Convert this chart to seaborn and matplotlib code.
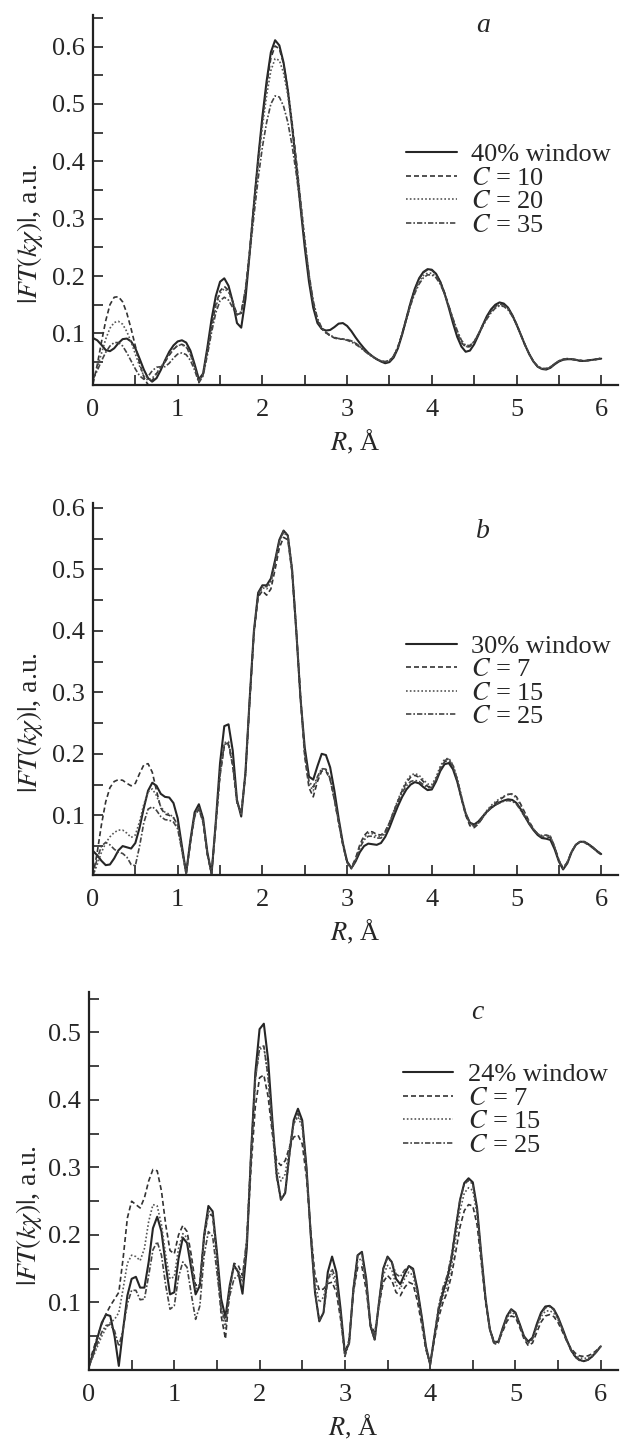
import numpy as np
import pandas as pd
import matplotlib
matplotlib.use("Agg")
import matplotlib.pyplot as plt
import seaborn as sns
from matplotlib.ticker import MultipleLocator

# R grid, 0 .. 6 A in 0.05 steps
r_grid = [round(0.05 * i, 2) for i in range(121)]

# panel a
a_win = [0.092, 0.088, 0.080, 0.071, 0.069, 0.074, 0.083, 0.090, 0.091, 0.086,
         0.074, 0.056, 0.037, 0.022, 0.016, 0.022, 0.036, 0.053, 0.068, 0.079,
         0.086, 0.088, 0.084, 0.070, 0.046, 0.020, 0.030, 0.075, 0.125, 0.165,
         0.190, 0.196, 0.183, 0.155, 0.118, 0.110, 0.160, 0.240, 0.325, 0.405,
         0.478, 0.540, 0.590, 0.611, 0.602, 0.572, 0.524, 0.462, 0.392, 0.320,
         0.250, 0.190, 0.145, 0.118, 0.108, 0.105, 0.106, 0.111, 0.117, 0.118,
         0.113, 0.104, 0.093, 0.083, 0.074, 0.066, 0.060, 0.055, 0.051, 0.048,
         0.050, 0.058, 0.074, 0.098, 0.126, 0.154, 0.178, 0.196, 0.207, 0.212,
         0.211, 0.204, 0.190, 0.170, 0.145, 0.118, 0.094, 0.077, 0.068, 0.070,
         0.081, 0.097, 0.114, 0.130, 0.142, 0.150, 0.154, 0.152, 0.145, 0.132,
         0.116, 0.098, 0.080, 0.064, 0.051, 0.042, 0.038, 0.037, 0.040, 0.046,
         0.051, 0.054, 0.055, 0.055, 0.054, 0.052, 0.052, 0.053, 0.054, 0.055,
         0.056]
a_c10 = [0.012, 0.045, 0.085, 0.122, 0.150, 0.163, 0.164, 0.155, 0.135, 0.108,
         0.078, 0.048, 0.024, 0.010, 0.018, 0.030, 0.040, 0.050, 0.062, 0.072,
         0.079, 0.081, 0.077, 0.064, 0.042, 0.016, 0.028, 0.068, 0.112, 0.150,
         0.174, 0.182, 0.175, 0.155, 0.133, 0.135, 0.175, 0.245, 0.325, 0.402,
         0.472, 0.532, 0.580, 0.601, 0.596, 0.570, 0.526, 0.468, 0.402, 0.332,
         0.262, 0.200, 0.152, 0.122, 0.108, 0.101, 0.096, 0.092, 0.090, 0.090,
         0.089, 0.087, 0.083, 0.077, 0.071, 0.065, 0.060, 0.055, 0.052, 0.050,
         0.052, 0.060, 0.076, 0.100, 0.127, 0.154, 0.177, 0.195, 0.206, 0.211,
         0.210, 0.203, 0.190, 0.171, 0.148, 0.124, 0.101, 0.084, 0.076, 0.077,
         0.085, 0.099, 0.114, 0.128, 0.139, 0.147, 0.151, 0.150, 0.144, 0.132,
         0.116, 0.098, 0.080, 0.064, 0.051, 0.042, 0.038, 0.038, 0.041, 0.047,
         0.052, 0.055, 0.056, 0.055, 0.054, 0.053, 0.052, 0.053, 0.054, 0.055,
         0.056]
a_c20 = [0.020, 0.040, 0.065, 0.090, 0.109, 0.119, 0.121, 0.116, 0.103, 0.085,
         0.064, 0.043, 0.026, 0.018, 0.022, 0.031, 0.041, 0.052, 0.064, 0.073,
         0.079, 0.080, 0.076, 0.063, 0.042, 0.018, 0.030, 0.068, 0.110, 0.146,
         0.170, 0.178, 0.172, 0.154, 0.133, 0.136, 0.176, 0.244, 0.320, 0.395,
         0.460, 0.515, 0.558, 0.579, 0.576, 0.554, 0.515, 0.462, 0.400, 0.333,
         0.265, 0.203, 0.155, 0.124, 0.109, 0.101, 0.096, 0.092, 0.091, 0.090,
         0.089, 0.087, 0.083, 0.077, 0.071, 0.065, 0.060, 0.055, 0.052, 0.050,
         0.052, 0.060, 0.076, 0.099, 0.125, 0.151, 0.173, 0.190, 0.201, 0.205,
         0.205, 0.199, 0.187, 0.169, 0.147, 0.124, 0.102, 0.085, 0.077, 0.078,
         0.086, 0.099, 0.113, 0.127, 0.138, 0.146, 0.150, 0.149, 0.143, 0.131,
         0.116, 0.098, 0.080, 0.064, 0.051, 0.042, 0.038, 0.038, 0.041, 0.047,
         0.052, 0.055, 0.056, 0.055, 0.054, 0.053, 0.052, 0.053, 0.054, 0.055,
         0.057]
a_c35 = [0.020, 0.035, 0.052, 0.067, 0.078, 0.084, 0.084, 0.078, 0.066, 0.052,
         0.038, 0.026, 0.020, 0.025, 0.035, 0.041, 0.042, 0.042, 0.048, 0.057,
         0.064, 0.066, 0.063, 0.053, 0.036, 0.014, 0.026, 0.062, 0.102, 0.136,
         0.157, 0.163, 0.158, 0.145, 0.132, 0.138, 0.176, 0.238, 0.305, 0.370,
         0.425, 0.468, 0.500, 0.514, 0.512, 0.496, 0.468, 0.428, 0.378, 0.320,
         0.260, 0.203, 0.157, 0.126, 0.110, 0.102, 0.097, 0.093, 0.091, 0.090,
         0.088, 0.085, 0.081, 0.076, 0.070, 0.064, 0.059, 0.055, 0.052, 0.051,
         0.053, 0.061, 0.077, 0.099, 0.124, 0.149, 0.170, 0.186, 0.197, 0.202,
         0.202, 0.197, 0.186, 0.169, 0.148, 0.126, 0.105, 0.088, 0.079, 0.079,
         0.086, 0.098, 0.112, 0.125, 0.136, 0.144, 0.148, 0.147, 0.141, 0.130,
         0.115, 0.098, 0.080, 0.064, 0.051, 0.043, 0.039, 0.039, 0.042, 0.047,
         0.052, 0.055, 0.056, 0.055, 0.054, 0.053, 0.052, 0.053, 0.054, 0.055,
         0.057]

# panel b
b_win = [0.042, 0.035, 0.026, 0.019, 0.020, 0.030, 0.043, 0.050, 0.048, 0.046,
         0.055, 0.080, 0.112, 0.140, 0.153, 0.148, 0.135, 0.130, 0.129, 0.120,
         0.095, 0.050, 0.006, 0.060, 0.105, 0.118, 0.095, 0.040, 0.005, 0.090,
         0.185, 0.245, 0.248, 0.205, 0.125, 0.098, 0.170, 0.290, 0.400, 0.462,
         0.474, 0.474, 0.485, 0.515, 0.548, 0.563, 0.555, 0.500, 0.400, 0.290,
         0.210, 0.163, 0.158, 0.180, 0.200, 0.198, 0.178, 0.140, 0.095, 0.055,
         0.025, 0.014, 0.025, 0.040, 0.050, 0.054, 0.053, 0.052, 0.055, 0.065,
         0.080, 0.098, 0.115, 0.130, 0.142, 0.150, 0.154, 0.152, 0.146, 0.141,
         0.142, 0.155, 0.172, 0.183, 0.185, 0.175, 0.155, 0.128, 0.103, 0.088,
         0.085, 0.090, 0.098, 0.106, 0.112, 0.117, 0.121, 0.124, 0.126, 0.125,
         0.120, 0.110, 0.098, 0.086, 0.076, 0.068, 0.063, 0.062, 0.060, 0.045,
         0.025, 0.012, 0.022, 0.040, 0.052, 0.057, 0.057, 0.053, 0.048, 0.042,
         0.037]
b_c7 = [0.002, 0.040, 0.085, 0.122, 0.145, 0.155, 0.158, 0.157, 0.152, 0.148,
        0.152, 0.168, 0.182, 0.184, 0.170, 0.140, 0.112, 0.102, 0.100, 0.096,
        0.085, 0.045, 0.006, 0.055, 0.098, 0.110, 0.088, 0.036, 0.006, 0.085,
        0.165, 0.212, 0.215, 0.180, 0.120, 0.105, 0.165, 0.285, 0.395, 0.455,
        0.465, 0.458, 0.468, 0.500, 0.535, 0.552, 0.548, 0.495, 0.398, 0.290,
        0.195, 0.145, 0.130, 0.155, 0.172, 0.172, 0.158, 0.125, 0.088, 0.052,
        0.024, 0.015, 0.030, 0.052, 0.067, 0.074, 0.073, 0.069, 0.068, 0.074,
        0.088, 0.106, 0.123, 0.140, 0.153, 0.162, 0.165, 0.162, 0.155, 0.147,
        0.146, 0.158, 0.175, 0.187, 0.189, 0.178, 0.156, 0.127, 0.100, 0.083,
        0.080, 0.086, 0.096, 0.106, 0.114, 0.120, 0.125, 0.130, 0.134, 0.135,
        0.130, 0.118, 0.104, 0.090, 0.078, 0.069, 0.064, 0.065, 0.064, 0.048,
        0.027, 0.014, 0.024, 0.041, 0.052, 0.057, 0.056, 0.052, 0.047, 0.041,
        0.036]
b_c15 = [0.002, 0.020, 0.040, 0.055, 0.065, 0.072, 0.076, 0.076, 0.071, 0.064,
         0.068, 0.090, 0.118, 0.138, 0.143, 0.132, 0.114, 0.105, 0.102, 0.097,
         0.083, 0.045, 0.005, 0.057, 0.101, 0.113, 0.091, 0.038, 0.005, 0.087,
         0.170, 0.218, 0.220, 0.183, 0.122, 0.102, 0.167, 0.287, 0.397, 0.458,
         0.470, 0.468, 0.478, 0.510, 0.545, 0.560, 0.553, 0.498, 0.400, 0.290,
         0.198, 0.150, 0.140, 0.160, 0.175, 0.174, 0.160, 0.127, 0.090, 0.053,
         0.024, 0.014, 0.028, 0.050, 0.064, 0.071, 0.070, 0.066, 0.066, 0.073,
         0.088, 0.107, 0.125, 0.142, 0.156, 0.165, 0.168, 0.165, 0.158, 0.151,
         0.150, 0.162, 0.180, 0.191, 0.193, 0.182, 0.160, 0.131, 0.104, 0.087,
         0.083, 0.088, 0.098, 0.108, 0.116, 0.122, 0.127, 0.131, 0.134, 0.134,
         0.128, 0.116, 0.102, 0.089, 0.078, 0.070, 0.066, 0.067, 0.066, 0.049,
         0.027, 0.014, 0.024, 0.041, 0.052, 0.057, 0.056, 0.052, 0.047, 0.041,
         0.036]
b_c25 = [0.002, 0.030, 0.050, 0.056, 0.052, 0.045, 0.040, 0.038, 0.032, 0.020,
         0.018, 0.050, 0.088, 0.110, 0.114, 0.108, 0.098, 0.093, 0.092, 0.089,
         0.078, 0.042, 0.005, 0.056, 0.100, 0.112, 0.090, 0.037, 0.005, 0.086,
         0.168, 0.215, 0.218, 0.182, 0.122, 0.103, 0.168, 0.288, 0.398, 0.460,
         0.472, 0.472, 0.482, 0.512, 0.546, 0.562, 0.556, 0.502, 0.404, 0.294,
         0.202, 0.155, 0.146, 0.163, 0.176, 0.175, 0.160, 0.126, 0.089, 0.052,
         0.023, 0.013, 0.026, 0.047, 0.060, 0.066, 0.066, 0.063, 0.063, 0.071,
         0.086, 0.104, 0.121, 0.137, 0.148, 0.155, 0.157, 0.155, 0.150, 0.145,
         0.145, 0.158, 0.176, 0.189, 0.192, 0.181, 0.159, 0.130, 0.103, 0.086,
         0.082, 0.087, 0.096, 0.105, 0.112, 0.117, 0.120, 0.123, 0.124, 0.123,
         0.118, 0.108, 0.097, 0.086, 0.077, 0.070, 0.067, 0.068, 0.066, 0.049,
         0.027, 0.013, 0.023, 0.041, 0.052, 0.057, 0.057, 0.053, 0.048, 0.042,
         0.037]

# panel c
c_win = [0.005, 0.025, 0.048, 0.070, 0.082, 0.080, 0.050, 0.006, 0.060, 0.110,
         0.135, 0.138, 0.122, 0.122, 0.160, 0.210, 0.227, 0.205, 0.155, 0.112,
         0.115, 0.165, 0.196, 0.188, 0.150, 0.112, 0.125, 0.200, 0.243, 0.235,
         0.175, 0.105, 0.078, 0.125, 0.155, 0.145, 0.113, 0.180, 0.320, 0.440,
         0.505, 0.513, 0.460, 0.370, 0.290, 0.252, 0.262, 0.320, 0.370, 0.387,
         0.370, 0.300, 0.200, 0.115, 0.072, 0.085, 0.145, 0.168, 0.145, 0.090,
         0.025, 0.040, 0.120, 0.170, 0.175, 0.135, 0.065, 0.045, 0.100, 0.150,
         0.168, 0.160, 0.135, 0.127, 0.142, 0.154, 0.150, 0.120, 0.080, 0.035,
         0.008, 0.050, 0.090, 0.115, 0.135, 0.165, 0.210, 0.252, 0.277, 0.284,
         0.278, 0.240, 0.170, 0.105, 0.060, 0.040, 0.042, 0.062, 0.080, 0.090,
         0.085, 0.068, 0.050, 0.042, 0.048, 0.068, 0.085, 0.094, 0.095, 0.090,
         0.078, 0.062, 0.045, 0.030, 0.020, 0.015, 0.013, 0.015, 0.020, 0.027,
         0.035]
c_c7 = [0.010, 0.030, 0.050, 0.068, 0.083, 0.095, 0.105, 0.115, 0.165, 0.225,
        0.250, 0.245, 0.240, 0.255, 0.280, 0.297, 0.295, 0.265, 0.215, 0.177,
        0.172, 0.200, 0.214, 0.205, 0.170, 0.125, 0.130, 0.195, 0.232, 0.228,
        0.165, 0.080, 0.046, 0.120, 0.158, 0.155, 0.140, 0.190, 0.300, 0.390,
        0.433, 0.437, 0.405, 0.350, 0.310, 0.303, 0.310, 0.330, 0.345, 0.348,
        0.335, 0.285, 0.205, 0.140, 0.118, 0.120, 0.128, 0.130, 0.115, 0.075,
        0.025, 0.045, 0.115, 0.152, 0.153, 0.118, 0.068, 0.055, 0.095, 0.130,
        0.140, 0.133, 0.115, 0.110, 0.122, 0.130, 0.127, 0.102, 0.068, 0.030,
        0.010, 0.045, 0.078, 0.100, 0.115, 0.140, 0.175, 0.212, 0.236, 0.245,
        0.243, 0.215, 0.158, 0.100, 0.060, 0.042, 0.042, 0.057, 0.072, 0.080,
        0.078, 0.063, 0.046, 0.036, 0.040, 0.056, 0.071, 0.080, 0.082, 0.079,
        0.070, 0.057, 0.043, 0.032, 0.025, 0.021, 0.020, 0.021, 0.024, 0.029,
        0.035]
c_c15 = [0.008, 0.020, 0.035, 0.050, 0.062, 0.070, 0.075, 0.085, 0.120, 0.158,
         0.170, 0.168, 0.162, 0.180, 0.220, 0.245, 0.243, 0.215, 0.170, 0.135,
         0.138, 0.180, 0.202, 0.196, 0.160, 0.118, 0.128, 0.198, 0.236, 0.230,
         0.168, 0.090, 0.062, 0.122, 0.152, 0.148, 0.130, 0.190, 0.320, 0.430,
         0.475, 0.478, 0.435, 0.360, 0.300, 0.280, 0.290, 0.330, 0.365, 0.375,
         0.360, 0.295, 0.205, 0.130, 0.100, 0.108, 0.135, 0.142, 0.125, 0.080,
         0.022, 0.042, 0.118, 0.162, 0.165, 0.126, 0.066, 0.050, 0.098, 0.140,
         0.155, 0.148, 0.126, 0.120, 0.135, 0.145, 0.140, 0.112, 0.074, 0.032,
         0.010, 0.048, 0.085, 0.108, 0.125, 0.153, 0.195, 0.236, 0.262, 0.270,
         0.266, 0.230, 0.165, 0.103, 0.060, 0.040, 0.042, 0.060, 0.076, 0.086,
         0.082, 0.066, 0.048, 0.040, 0.045, 0.063, 0.079, 0.087, 0.088, 0.084,
         0.074, 0.060, 0.044, 0.031, 0.022, 0.018, 0.017, 0.018, 0.022, 0.028,
         0.035]
c_c25 = [0.005, 0.022, 0.040, 0.056, 0.066, 0.067, 0.058, 0.035, 0.060, 0.098,
         0.118, 0.118, 0.104, 0.105, 0.140, 0.178, 0.190, 0.170, 0.125, 0.090,
         0.095, 0.138, 0.160, 0.152, 0.112, 0.075, 0.095, 0.170, 0.205, 0.198,
         0.145, 0.090, 0.072, 0.110, 0.135, 0.140, 0.135, 0.195, 0.320, 0.430,
         0.478, 0.480, 0.435, 0.355, 0.285, 0.253, 0.263, 0.318, 0.365, 0.380,
         0.365, 0.298, 0.200, 0.115, 0.074, 0.085, 0.133, 0.150, 0.132, 0.083,
         0.020, 0.040, 0.120, 0.170, 0.173, 0.133, 0.064, 0.044, 0.100, 0.150,
         0.166, 0.160, 0.142, 0.138, 0.148, 0.153, 0.148, 0.118, 0.078, 0.033,
         0.007, 0.052, 0.095, 0.122, 0.140, 0.170, 0.212, 0.252, 0.275, 0.281,
         0.275, 0.237, 0.168, 0.104, 0.060, 0.038, 0.040, 0.061, 0.079, 0.089,
         0.084, 0.067, 0.049, 0.040, 0.046, 0.066, 0.083, 0.092, 0.094, 0.089,
         0.077, 0.061, 0.044, 0.029, 0.019, 0.014, 0.013, 0.015, 0.020, 0.027,
         0.036]

labels_a = ["40% window", "$C$ = 10", "$C$ = 20", "$C$ = 35"]
labels_b = ["30% window", "$C$ = 7", "$C$ = 15", "$C$ = 25"]
labels_c = ["24% window", "$C$ = 7", "$C$ = 15", "$C$ = 25"]

sns.set_style("ticks")
plt.rcParams['font.family'] = ['Liberation Serif', 'DejaVu Serif']
plt.rcParams['mathtext.fontset'] = 'stix'

styles = [dict(color="#262626", linestyle="-", lw=1.5),
          dict(color="#333333", linestyle=(0, (3.0, 1.8)), lw=1.2),
          dict(color="#555555", linestyle=(0, (1.0, 1.3)), lw=1.2),
          dict(color="#444444", linestyle=(0, (3.2, 1.2, 1.0, 1.2)), lw=1.2)]

panels = [
    dict(series=[a_win, a_c10, a_c20, a_c35], labels=labels_a, letter="a",
         rect=[0.150, 0.7328, 0.847, 0.2568], ylim=(0.010, 0.655),
         letter_xy=(4.6, 0.637), leg_xy=(3.70, 0.432), ylab_x=-0.092),
    dict(series=[b_win, b_c7, b_c15, b_c25], labels=labels_b, letter="b",
         rect=[0.150, 0.3928, 0.847, 0.2582], ylim=(0.003, 0.608),
         letter_xy=(4.6, 0.562), leg_xy=(3.70, 0.394), ylab_x=-0.092),
    dict(series=[c_win, c_c7, c_c15, c_c25], labels=labels_c, letter="c",
         rect=[0.1435, 0.0493, 0.853, 0.2623], ylim=(0.0, 0.56),
         letter_xy=(4.55, 0.529), leg_xy=(3.68, 0.455), ylab_x=-0.085),
]

fig = plt.figure(figsize=(6.2, 14.41), dpi=100)

for p in panels:
    ax = fig.add_axes(p["rect"])
    for vals, lab, st in zip(p["series"], p["labels"], styles):
        df = pd.DataFrame({"R": r_grid, "FT": vals})
        sns.lineplot(data=df, x="R", y="FT", ax=ax, label=lab, **st)
    ax.set_xlim(0, 6.2)
    ax.set_ylim(*p["ylim"])
    ax.xaxis.set_minor_locator(MultipleLocator(0.5))
    ax.yaxis.set_minor_locator(MultipleLocator(0.05))
    ax.set_xticks(range(0, 7))
    ax.set_xticklabels([str(i) for i in range(0, 7)])
    yt = [t for t in np.arange(0.1, p["ylim"][1], 0.1)]
    ax.set_yticks(yt)
    ax.set_yticklabels(["%.1f" % t for t in yt])
    ax.tick_params(which="both", direction="in", length=7, width=1.2,
                   labelsize=19, color="#222222")
    ax.tick_params(axis="x", pad=10)
    ax.tick_params(axis="y", pad=6)
    for s in ["top", "right"]:
        ax.spines[s].set_visible(False)
    for s in ["left", "bottom"]:
        ax.spines[s].set_linewidth(1.6)
        ax.spines[s].set_color("#222222")
    ax.set_xlabel("$R$, Å", fontsize=19, labelpad=5)
    ax.set_ylabel(r"$|FT(k\chi)|$, a.u.", fontsize=20)
    ax.yaxis.set_label_coords(p["ylab_x"], 0.41)
    ax.text(p["letter_xy"][0], p["letter_xy"][1], p["letter"], fontsize=20,
            style="italic", ha="center", va="center")
    ax.legend(loc="upper left", bbox_to_anchor=p["leg_xy"],
              bbox_transform=ax.transData, frameon=False, fontsize=19,
              handlelength=1.9, handletextpad=0.55, labelspacing=0.0,
              borderpad=0, borderaxespad=0)

fig.savefig("out.png", dpi=100)
